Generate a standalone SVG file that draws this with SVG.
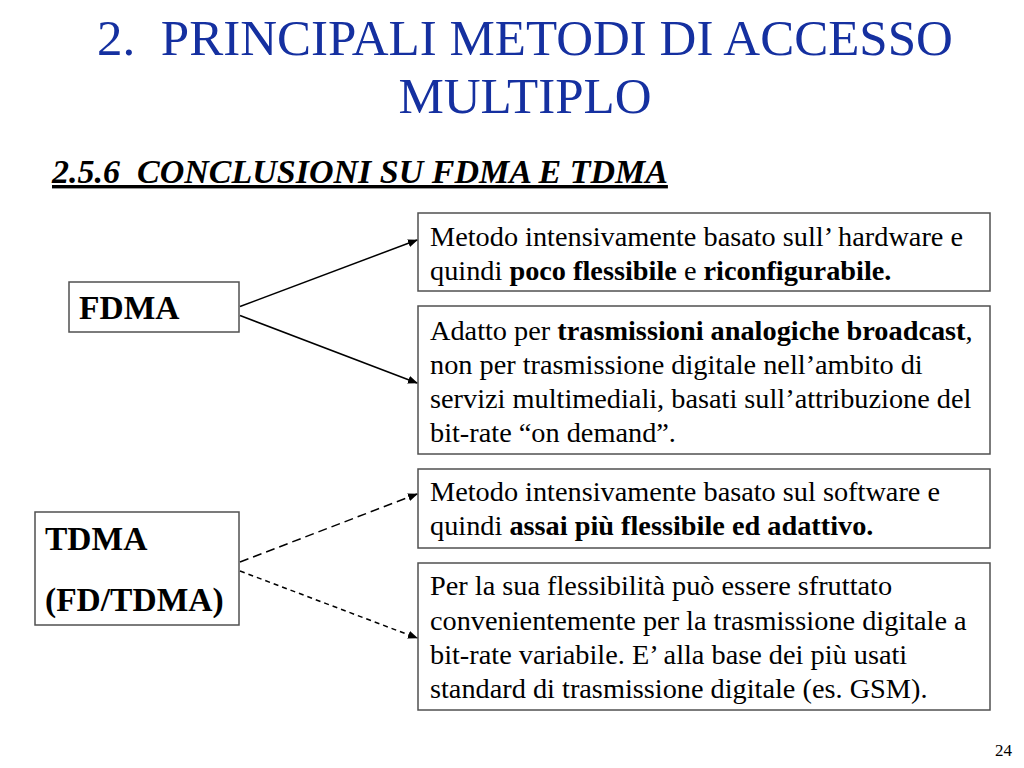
<svg xmlns="http://www.w3.org/2000/svg" width="1024" height="768" viewBox="0 0 1024 768">
<defs>
<style>
.t{font-family:'Liberation Serif','Tinos','Times New Roman','DejaVu Serif',serif;fill:#000}
.title{font-family:'Liberation Serif','Tinos','Times New Roman','DejaVu Serif',serif;fill:#1530a0;font-size:51px}
.box{fill:#fff;stroke:#505050;stroke-width:1.5}
.body{font-size:28.3px}
.lbl{font-size:33.5px;font-weight:bold}
.conn{stroke:#000;stroke-width:1.5;fill:none}
</style>
<marker id="ah" markerWidth="10" markerHeight="8" refX="9" refY="4" orient="auto" markerUnits="userSpaceOnUse">
<path d="M0,0 L10,4 L0,8 Z" fill="#000"/>
</marker>
</defs>
<rect width="1024" height="768" fill="#fff"/>
<text class="title" x="525" y="55" text-anchor="middle" xml:space="preserve">2.  PRINCIPALI METODI DI ACCESSO</text>
<text class="title" x="525" y="113" text-anchor="middle">MULTIPLO</text>
<text class="t" x="52" y="183" font-size="34" font-weight="bold" font-style="italic" text-decoration="underline" xml:space="preserve">2.5.6  CONCLUSIONI SU FDMA E TDMA</text>

<g id="fdma">
<rect class="box" x="69" y="282" width="170" height="50"/>
<text class="t lbl" x="79" y="319">FDMA</text>
</g>
<g id="tdma">
<rect class="box" x="35" y="512" width="204" height="113"/>
<text class="t lbl" x="45" y="550">TDMA</text>
<text class="t lbl" x="45" y="611">(FD/TDMA)</text>
</g>
<g id="box1">
<rect class="box" x="418" y="213" width="572" height="78"/>
<text class="t body" x="430" y="246">Metodo intensivamente basato sull’ hardware e</text>
<text class="t body" x="430" y="280">quindi <tspan font-weight="bold">poco flessibile</tspan> e <tspan font-weight="bold">riconfigurabile.</tspan></text>
</g>
<g id="box2">
<rect class="box" x="418" y="306" width="572" height="148"/>
<text class="t body" x="430" y="340">Adatto per <tspan font-weight="bold">trasmissioni analogiche broadcast</tspan>,</text>
<text class="t body" x="430" y="374">non per trasmissione digitale nell’ambito di</text>
<text class="t body" x="430" y="408">servizi multimediali, basati sull’attribuzione del</text>
<text class="t body" x="430" y="442">bit-rate “on demand”.</text>
</g>
<g id="box3">
<rect class="box" x="418" y="469" width="572" height="79"/>
<text class="t body" x="430" y="501">Metodo intensivamente basato sul software e</text>
<text class="t body" x="430" y="535">quindi <tspan font-weight="bold">assai più flessibile ed adattivo.</tspan></text>
</g>
<g id="box4">
<rect class="box" x="418" y="563" width="572" height="147"/>
<text class="t body" x="430" y="595">Per la sua flessibilità può essere sfruttato</text>
<text class="t body" x="430" y="630">convenientemente per la trasmissione digitale a</text>
<text class="t body" x="430" y="664">bit-rate variabile. E’ alla base dei più usati</text>
<text class="t body" x="430" y="698">standard di trasmissione digitale (es. GSM).</text>
</g>
<g id="connectors">
<line class="conn" x1="240" y1="306.5" x2="417" y2="240" marker-end="url(#ah)"/>
<line class="conn" x1="240" y1="315.5" x2="417" y2="383" marker-end="url(#ah)"/>
<line class="conn" x1="240" y1="562" x2="417" y2="494" stroke-dasharray="9,5" marker-end="url(#ah)"/>
<line class="conn" x1="240" y1="571" x2="417" y2="638" stroke-dasharray="5,4" marker-end="url(#ah)"/>
</g>
<text class="t" x="1012" y="756" font-size="17" text-anchor="end">24</text>
</svg>
